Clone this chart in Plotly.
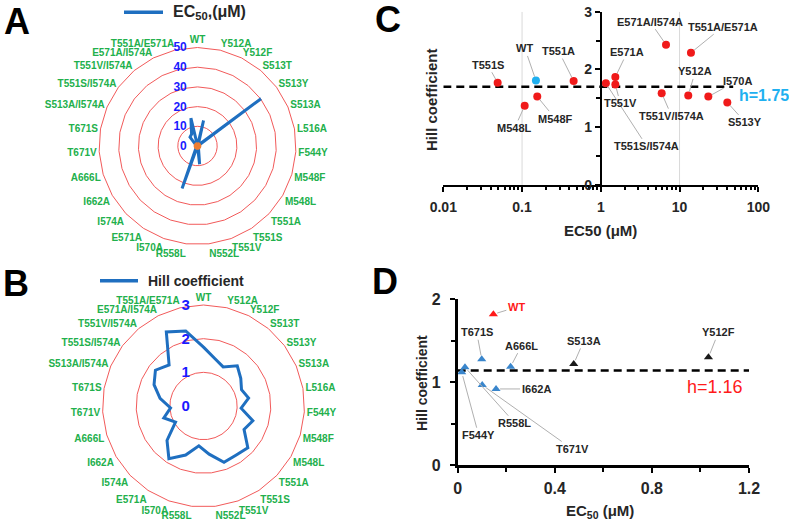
import math
import plotly.graph_objects as go

W, H = 789, 524


def px(x):
    return x / W


def py(y):
    return 1 - y / H


# ---------------- data ----------------
mutants = ["WT", "Y512A", "Y512F", "S513T", "S513Y", "S513A", "L516A", "F544Y", "M548F", "M548L",
           "T551A", "T551S", "T551V", "N552L", "R558L", "I570A", "E571A", "I574A", "I662A", "A666L",
           "T671V", "T671S", "S513A/I574A", "T551S/I574A", "T551V/I574A", "E571A/I574A", "T551A/E571A"]
ec50_radar = [0.15, 13.3, 1.03, 0.5, 40.2, 0.48, 0.6, 0.02, 0.16, 0.11,
              0.45, 0.05, 1.55, 9.3, 0.03, 22.9, 1.55, 0.8, 0.16, 0.22,
              0.10, 0.10, 0.7, 1.2, 5.9, 6.7, 14.5]
orange_radar = [1.2, 1.2, 1.2, 1.2, 1.2, 1.2, 1.2, 1.2, 1.2, 1.2,
                1.2, 1.2, 1.2, 1.2, 1.2, 1.2, 1.2, 1.2, 1.2, 1.2,
                1.2, 1.2, 1.2, 1.2, 1.2, 1.2, 1.2]
hill_radar = [1.75, 1.45, 1.30, 1.56, 1.38, 1.23, 1.36, 1.12, 1.53, 1.39,
              1.81, 1.75, 1.78, 1.44, 1.19, 1.55, 1.87, 1.49, 0.96, 1.23,
              0.98, 1.31, 1.60, 1.78, 1.59, 2.46, 2.29]

c_names = ["T551S", "WT", "T551A", "M548L", "M548F", "T551S/I574A", "E571A", "T551V",
           "T551V/I574A", "E571A/I574A", "T551A/E571A", "Y512A", "I570A", "S513Y"]
c_ec50 = [0.049, 0.150, 0.452, 0.108, 0.156, 1.16, 1.53, 1.53, 5.93, 6.73, 13.96, 12.9, 23.2, 40.4]
c_hill = [1.77, 1.81, 1.80, 1.37, 1.53, 1.76, 1.87, 1.74, 1.59, 2.43, 2.29, 1.55, 1.53, 1.43]
c_h_line = 1.70
c_h_line_x = [0.01, 48]
c_h_text = "h=1.75"
c_xticks = [0.01, 0.1, 1, 10, 100]
c_xticktext = ["0.01", "0.1", "1", "10", "100"]
c_gridlines = [0.1, 10]

d_names = ["WT", "T671S", "A666L", "S513A", "Y512F", "I662A", "F544Y", "R558L", "T671V"]
d_ec50 = [0.147, 0.099, 0.218, 0.478, 1.033, 0.158, 0.0165, 0.030, 0.101]
d_hill = [1.82, 1.276, 1.187, 1.22, 1.30, 0.918, 1.12, 1.18, 0.966]
d_group = ["wt", "blue", "blue", "black", "black", "blue", "blue", "blue", "blue"]
d_h_line = 1.14
d_h_line_x = [0, 1.2]
d_h_text = "h=1.16"

# ---------------- styles ----------------
FONT = "Liberation Sans, Arial, sans-serif"
RED_GRID = "#f25a5a"
GREEN = "#22b04c"
BLUE_TXT = "#1a1aff"
LINE_BLUE = "#1f6fc0"
ORANGE = "#ed7d31"
DARK = "#262626"
LEADER = "#b0b0b0"

# label offsets (pixels) for panel C and D annotations
c_offsets = {"T551S": (-10, -18), "WT": (-11, -32), "T551A": (-15, -30), "M548L": (-10, 22),
             "M548F": (18, 22), "T551S/I574A": (41, 63), "E571A": (12, -25), "T551V": (5, 19),
             "T551V/I574A": (10, 23), "E571A/I574A": (-16, -23), "T551A/E571A": (32, -26),
             "Y512A": (7, -24), "I570A": (29, -16), "S513Y": (18, 20)}
d_offsets = {"WT": (23, -7), "T671S": (-5, -27), "A666L": (11, -21), "S513A": (10, -23),
             "Y512F": (10, -25), "I662A": (40, 0), "F544Y": (17, 63), "R558L": (50, 56),
             "T671V": (90, 64)}
d_colors = {"wt": "#ff1a1a", "blue": "#3a86cc", "black": "#1a1a1a"}

fig = go.Figure()

# ---------------- panel A radar ----------------
theta_closed = mutants + [mutants[0]]
fig.add_trace(go.Scatterpolar(r=ec50_radar + [ec50_radar[0]], theta=theta_closed, mode="lines",
                              line=dict(color=LINE_BLUE, width=3), subplot="polar", showlegend=False))
fig.add_trace(go.Scatterpolar(r=orange_radar + [orange_radar[0]], theta=theta_closed, mode="lines",
                              fill="toself", fillcolor=ORANGE,
                              line=dict(color=ORANGE, width=3), subplot="polar", showlegend=False))
# ---------------- panel B radar ----------------
fig.add_trace(go.Scatterpolar(r=hill_radar + [hill_radar[0]], theta=theta_closed, mode="lines",
                              line=dict(color=LINE_BLUE, width=3), subplot="polar2", showlegend=False))


def polar_layout(dom_x, dom_y, rmax, dt, rfont, rticklen):
    return dict(
        domain=dict(x=dom_x, y=dom_y),
        bgcolor="white",
        gridshape="linear",
        angularaxis=dict(type="category", categoryarray=mutants, direction="clockwise", rotation=90,
                         showgrid=False, showline=True, linecolor=RED_GRID, linewidth=1, ticks="",
                         ticklen=0,
                         tickfont=dict(family=FONT, size=10, color=GREEN, weight="bold")),
        radialaxis=dict(range=[0, rmax], dtick=dt, angle=90, tickangle=90, showline=False,
                        showgrid=True, gridcolor=RED_GRID, gridwidth=1,
                        ticks="outside", ticklen=rticklen, tickcolor="rgba(0,0,0,0)",
                        side="counterclockwise",
                        tickfont=dict(family=FONT, size=rfont, color=BLUE_TXT, weight="bold")),
    )


# ---------------- panel C scatter ----------------
for g in c_gridlines:
    fig.add_trace(go.Scatter(x=[g, g], y=[0, 3], mode="lines", line=dict(color="#d9d9d9", width=1),
                             xaxis="x3", yaxis="y3", showlegend=False, hoverinfo="skip"))
fig.add_trace(go.Scatter(x=c_h_line_x, y=[c_h_line, c_h_line], mode="lines",
                         line=dict(color="black", width=2.5, dash="8px,5px"),
                         xaxis="x3", yaxis="y3", showlegend=False))
fig.add_trace(go.Scatter(x=c_ec50, y=c_hill, mode="markers",
                         marker=dict(size=8, color=["#1fb0f0" if n == "WT" else "#f01a1a" for n in c_names]),
                         xaxis="x3", yaxis="y3", showlegend=False))

# ---------------- panel D scatter ----------------
fig.add_trace(go.Scatter(x=d_h_line_x, y=[d_h_line, d_h_line], mode="lines",
                         line=dict(color="black", width=2.5, dash="8px,5px"),
                         xaxis="x4", yaxis="y4", showlegend=False))
fig.add_trace(go.Scatter(x=d_ec50, y=d_hill, mode="markers",
                         marker=dict(symbol="triangle-up", size=8, color=[d_colors[g] for g in d_group]),
                         xaxis="x4", yaxis="y4", showlegend=False))

annotations = []
# panel C labels
for n, xv, yv in zip(c_names, c_ec50, c_hill):
    ax, ay = c_offsets[n]
    annotations.append(dict(x=math.log10(xv), y=yv, xref="x3", yref="y3", text="<b>%s</b>" % n,
                            showarrow=True, arrowhead=0, arrowwidth=1, arrowcolor=LEADER, standoff=4,
                            ax=ax, ay=ay, font=dict(family=FONT, size=11, color=DARK)))
# panel D labels
for n, xv, yv, g in zip(d_names, d_ec50, d_hill, d_group):
    ax, ay = d_offsets[n]
    annotations.append(dict(x=xv, y=yv, xref="x4", yref="y4", text="<b>%s</b>" % n,
                            showarrow=True, arrowhead=0, arrowwidth=1, arrowcolor=LEADER, standoff=4,
                            ax=ax, ay=ay,
                            font=dict(family=FONT, size=11, color="#ff1a1a" if g == "wt" else DARK)))

# h labels
annotations.append(dict(x=px(737), y=py(95), xref="paper", yref="paper", xanchor="left", yanchor="middle",
                        text="<b>%s</b>" % c_h_text, showarrow=False,
                        font=dict(family=FONT, size=16, color="#1fb0f0")))
annotations.append(dict(x=px(685), y=py(387), xref="paper", yref="paper", xanchor="left", yanchor="middle",
                        text=d_h_text, showarrow=False,
                        font=dict(family=FONT, size=18, color="#ff1a1a")))

# axis titles
annotations += [
    dict(x=px(432), y=py(100), xref="paper", yref="paper", text="<b>Hill coefficient</b>", textangle=-90,
         xanchor="center", yanchor="middle",
         showarrow=False, font=dict(family=FONT, size=15, color=DARK)),
    dict(x=px(600), y=py(230), xref="paper", yref="paper", text="<b>EC50 (μM)</b>",
         xanchor="center", yanchor="middle",
         showarrow=False, font=dict(family=FONT, size=15, color=DARK)),
    dict(x=px(422), y=py(383), xref="paper", yref="paper", text="<b>Hill coefficient</b>", textangle=-90,
         xanchor="center", yanchor="middle",
         showarrow=False, font=dict(family=FONT, size=14, color=DARK)),
    dict(x=px(600), y=py(511), xref="paper", yref="paper", text="<b>EC<sub>50</sub> (μM)</b>",
         xanchor="center", yanchor="middle",
         showarrow=False, font=dict(family=FONT, size=15, color=DARK)),
]

# panel letters
for letter, lx, ly in [("A", 16.5, 21), ("B", 15.5, 283), ("C", 388, 20), ("D", 385, 281)]:
    annotations.append(dict(x=px(lx), y=py(ly), xref="paper", yref="paper", text="<b>%s</b>" % letter,
                            showarrow=False, xanchor="center", yanchor="middle",
                            font=dict(family=FONT, size=36, color="black")))

# legends for radar panels
annotations += [
    dict(x=px(171), y=py(12.5), xref="paper", yref="paper", xanchor="left", yanchor="middle",
         text="<b>EC<sub>50</sub>,(μM)</b>", showarrow=False, font=dict(family=FONT, size=16, color=DARK)),
    dict(x=px(146), y=py(280.5), xref="paper", yref="paper", xanchor="left", yanchor="middle",
         text="<b>Hill coefficient</b>", showarrow=False, font=dict(family=FONT, size=14, color=DARK)),
]
shapes = [
    dict(type="line", xref="paper", yref="paper", x0=px(124), x1=px(163), y0=py(12.3), y1=py(12.3),
         line=dict(color=LINE_BLUE, width=3.5)),
    dict(type="line", xref="paper", yref="paper", x0=px(100), x1=px(138), y0=py(280.7), y1=py(280.7),
         line=dict(color=LINE_BLUE, width=3.5)),
]

tick_font_c = dict(family=FONT, size=14, color=DARK, weight="bold")
tick_font_d = dict(family=FONT, size=16, color=DARK, weight="bold")
c_minor = [m * 10 ** e for e in range(-2, 2) for m in range(2, 10)]

fig.update_layout(
    width=W, height=H, autosize=False,
    margin=dict(l=0, r=0, t=0, b=0, pad=0, autoexpand=False),
    paper_bgcolor="white", plot_bgcolor="rgba(0,0,0,0)",
    polar=polar_layout([px(99), px(296)], [py(244.5), py(47.5)], 50, 10, 12, 6),
    polar2=polar_layout([px(102.5), px(304.5)], [py(507), py(305)], 3, 1, 15, 8),
    xaxis3=dict(domain=[px(443.3), px(758.3)], anchor="y3", type="log", range=[-2, 2],
                tickvals=c_xticks, ticktext=c_xticktext, showgrid=False, zeroline=False,
                showline=True, linecolor="black", linewidth=2, ticks="outside", ticklen=5,
                tickwidth=1.5, tickcolor="black", ticklabelstandoff=3, tickfont=tick_font_c,
                automargin=False,
                minor=dict(tickvals=c_minor, ticks="outside", ticklen=3, tickcolor="black", showgrid=False)),
    yaxis3=dict(domain=[py(185), py(11.7)], anchor="free", position=px(600.8), range=[0, 3],
                tickvals=[0, 1, 2, 3], showgrid=False, zeroline=False, automargin=False,
                showline=True, linecolor="black", linewidth=2, ticks="outside", ticklen=5,
                tickwidth=1.5, tickcolor="black", tickfont=tick_font_c,
                minor=dict(dtick=0.5, ticks="outside", ticklen=4, tickcolor="black", showgrid=False)),
    xaxis4=dict(domain=[px(457.7), px(749)], anchor="y4", range=[0, 1.2],
                tickvals=[0, 0.4, 0.8, 1.2], ticktext=["0", "0.4", "0.8", "1.2"], showgrid=False,
                zeroline=False, showline=True, linecolor="black", linewidth=2.5, ticks="outside",
                ticklen=5, tickwidth=1.5, tickcolor="black", ticklabelstandoff=2, tickfont=tick_font_d,
                automargin=False,
                minor=dict(dtick=0.2, ticks="outside", ticklen=4, tickcolor="black", showgrid=False)),
    yaxis4=dict(domain=[py(465), py(299.3)], anchor="x4", range=[0, 2],
                tickvals=[0, 1, 2], showgrid=False, zeroline=False, automargin=False,
                showline=True, linecolor="black", linewidth=2.5, ticks="outside", ticklen=5,
                tickwidth=1.5, tickcolor="black", ticklabelstandoff=6, tickfont=tick_font_d,
                minor=dict(dtick=0.5, ticks="outside", ticklen=4, tickcolor="black", showgrid=False)),
    annotations=annotations,
    shapes=shapes,
    showlegend=False,
)

fig.write_html("out.html", config={"displayModeBar": False},
               post_script="document.body.style.margin='0';document.body.style.overflow='hidden';")
